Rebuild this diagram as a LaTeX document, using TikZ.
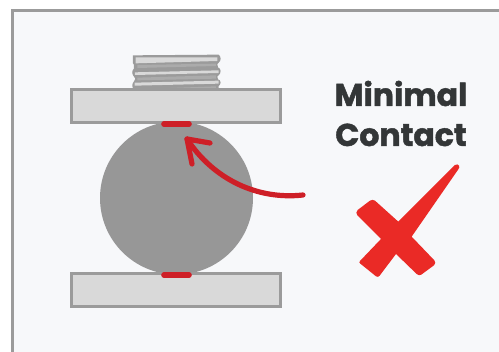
\documentclass[tikz,border=0pt]{standalone}
\usepackage{fontspec}
\setmainfont{Poppins}[BoldFeatures={FakeBold=1.4}]
\definecolor{pagebg}{HTML}{F7F8FA}
\definecolor{framegray}{HTML}{9B9B9B}
\definecolor{platefill}{HTML}{D9D9D9}
\definecolor{ballgray}{HTML}{979797}
\definecolor{contactred}{HTML}{CE1F27}
\definecolor{crossred}{HTML}{EA2A26}
\definecolor{inkdark}{HTML}{333637}
\tikzset{
  plate/.style={draw=framegray,fill=platefill,line width=3pt},
  contact/.style={draw=contactred,line width=5.6pt,line cap=round},
  pointer/.style={draw=contactred,line width=5.2pt,line cap=round,line join=round},
  lightstrip/.style={fill=platefill},
  midstrip/.style={fill=ballgray!70!platefill},
  heading/.style={font=\bfseries\fontsize{31.5}{31.5}\selectfont,text=inkdark,inner sep=0pt,anchor=base}
}
\begin{document}
\begin{tikzpicture}[x=1pt,y=-1pt]
\useasboundingbox (0,0) rectangle (499,352);
\fill[white] (0,0) rectangle (499,352);
\fill[pagebg] (12.5,10.5) rectangle (499,352);
\draw[framegray,line width=3pt] (12.5,352) -- (12.5,10.5) -- (499,10.5);
% threaded stud, in the coordinates of a 3x crop
\begin{scope}[shift={(60,40)},x=0.3333pt,y=-0.3333pt]
\fill[framegray] (219,46) -- (476,44) .. controls (484,50) and (484,62) .. (476,68)
  -- (472,72) -- (474,82) .. controls (484,85) and (484,100) .. (476,106)
  -- (472,110) -- (474,118) .. controls (484,120) and (484,133) .. (476,138)
  -- (476,152) -- (224,152) .. controls (216,145) and (214,132) .. (222,124)
  -- (226,116) -- (222,110) .. controls (214,102) and (216,90) .. (222,86)
  -- (222,74) -- (219,70) -- cycle;
\fill[lightstrip] (227,52) -- (472,52) -- (472,63) -- (227,70) -- cycle;
\fill[lightstrip] (225,97) -- (476,91) -- (476,99) -- (225,105) -- cycle;
\fill[lightstrip] (224,128) -- (476,122) -- (476,131) -- (224,137) -- cycle;
\fill[midstrip] (232,75) -- (468,71) -- (468,78) -- (232,84) -- cycle;
\fill[midstrip] (232,113) -- (468,106) -- (468,116) -- (232,121) -- cycle;
\fill[midstrip] (250,147) -- (468,139) -- (468,150) -- (250,150) -- cycle;
\end{scope}
% ball and plates
\node[circle,fill=ballgray,minimum size=153pt,inner sep=0pt] (ball) at (176.5,198) {};
\node[plate,minimum width=209pt,minimum height=33pt,inner sep=0pt] (topplate) at (176.3,106.5) {};
\node[plate,minimum width=209pt,minimum height=33pt,inner sep=0pt] (bottomplate) at (176.3,290) {};
\coordinate (topA) at (164,124);
\coordinate (topB) at (189,124);
\coordinate (botA) at (164,275);
\coordinate (botB) at (189,275);
\draw[contact] (topA) -- (topB);
\draw[contact] (botA) -- (botB);
% arrow
\coordinate (arrowstart) at (303,195);
\coordinate (arrowtip) at (187,139);
\coordinate (barbA) at (210,143);
\coordinate (barbB) at (192,164);
\draw[pointer] (arrowstart) .. controls (258,200) and (214,180) .. (arrowtip);
\draw[pointer] (barbA) -- (arrowtip) -- (barbB);
% text
\node[heading] (line1) at (401,106) {Minimal};
\node[heading] (line2) at (401,146) {Contact};
% cross
\begin{scope}[shift={(320,70)},x=0.3333pt,y=-0.3333pt]
\fill[crossred] (417,287) .. controls (415,283) and (410,282) .. (405,285)
 -- (235,455) -- (165,392) .. controls (160,389) and (155,389) .. (150,392)
 -- (113,420) .. controls (108,425) and (108,431) .. (112,436)
 -- (183,507) -- (120,573) .. controls (117,576) and (118,579) .. (121,581)
 -- (168,619) .. controls (172,622) and (176,621) .. (179,617)
 -- (228,552) -- (290,612) .. controls (294,616) and (300,617) .. (304,614)
 -- (342,586) .. controls (347,582) and (347,576) .. (343,571)
 -- (275,500) -- (415,298) .. controls (418,294) and (419,291) .. (417,287) -- cycle;
\end{scope}
\end{tikzpicture}
\end{document}
